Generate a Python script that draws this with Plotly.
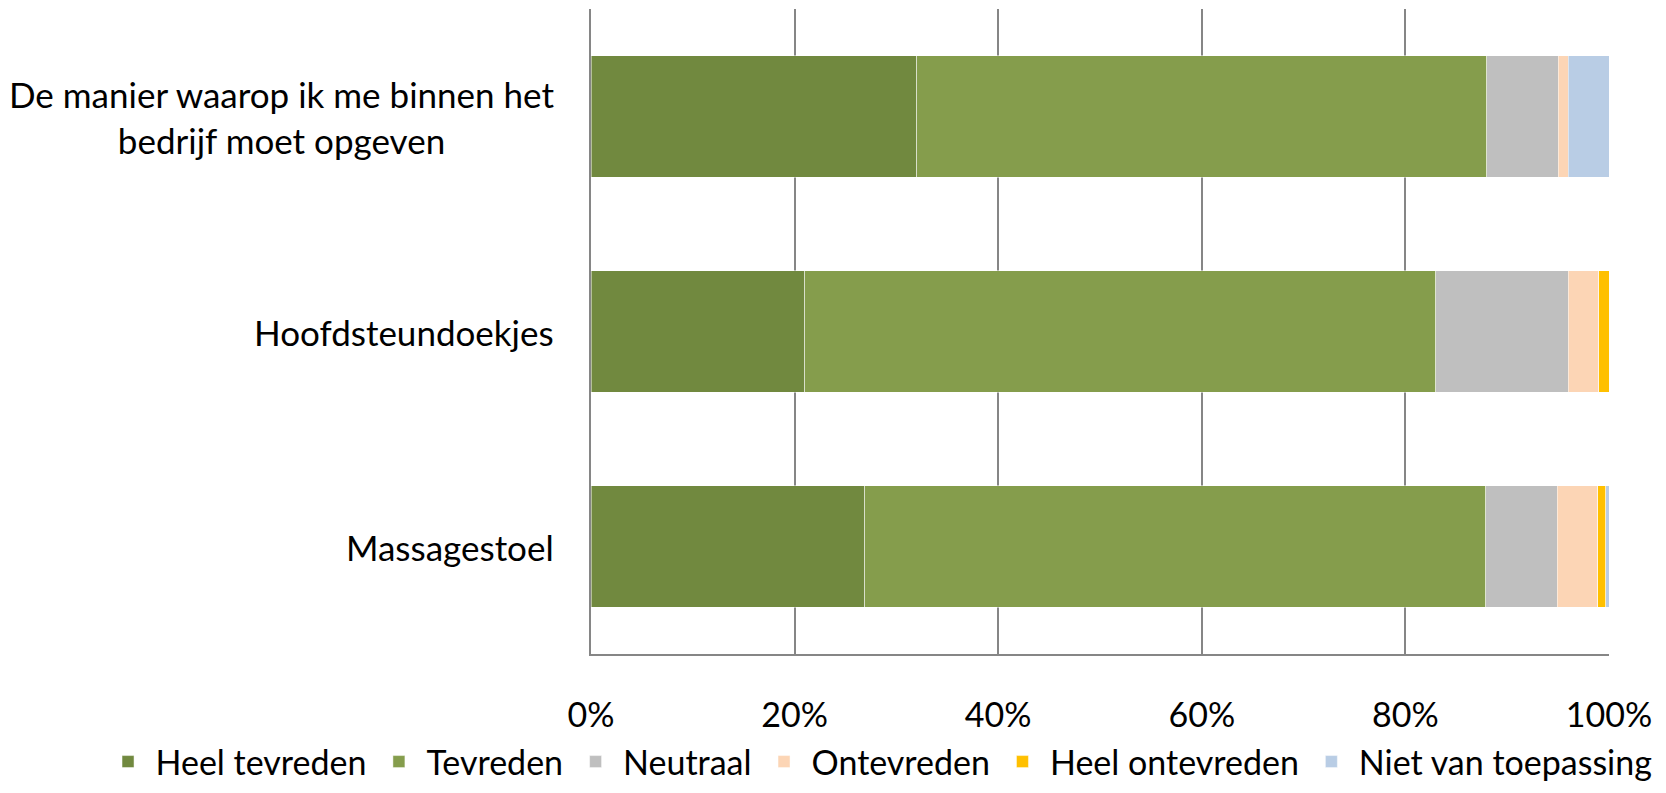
import plotly.graph_objects as go

categories = ["De manier waarop ik me binnen het<br>bedrijf moet opgeven", "Hoofdsteundoekjes", "Massagestoel"]
series_names = ["Heel tevreden", "Tevreden", "Neutraal", "Ontevreden", "Heel ontevreden", "Niet van toepassing"]
heel_tevreden = [32, 21, 26.9]
tevreden = [56, 62, 61]
neutraal = [7, 13, 7]
ontevreden = [1, 3, 4]
heel_ontevreden = [0, 1, 0.8]
niet_van_toepassing = [4, 0, 0.3]
colors = ["#71893F", "#859D4C", "#BFBFBF", "#FCD5B5", "#FFC000", "#B9CDE5"]
x_ticks = [0, 20, 40, 60, 80, 100]
x_tick_labels = ["0%", "20%", "40%", "60%", "80%", "100%"]

values = [heel_tevreden, tevreden, neutraal, ontevreden, heel_ontevreden, niet_van_toepassing]
FONT = "Lato"
FS = 34
W, H = 1650, 777

fig = go.Figure()
for name, vals, col in zip(series_names, values, colors):
    fig.add_trace(go.Bar(
        y=categories, x=vals, name=name, orientation="h",
        marker=dict(color=col, line=dict(color="rgba(255,255,255,0.6)", width=0.8)),
    ))

for cat in categories:
    fig.add_annotation(
        xref="paper", yref="y", x=0, y=cat, text=cat, showarrow=False,
        xanchor="right", yanchor="middle", align="center", xshift=-35,
        font=dict(family=FONT, size=35, color="#000000"),
    )

fig.update_layout(
    barmode="stack", barnorm="percent", bargap=0.434,
    width=W, height=H,
    margin=dict(l=583, r=49, t=1, b=131, autoexpand=False),
    plot_bgcolor="white", paper_bgcolor="white",
    font=dict(family=FONT, size=FS, color="#000000"),
    legend=dict(orientation="h", xref="paper", x=-0.4818, xanchor="left",
                yref="paper", y=-0.1674, yanchor="middle",
                font=dict(family=FONT, size=FS), traceorder="normal",
                itemwidth=45, tracegroupgap=0, bgcolor="rgba(0,0,0,0)"),
)
fig.update_xaxes(
    range=[0, 100], tickvals=x_ticks, ticktext=x_tick_labels,
    showgrid=True, gridcolor="#868686", gridwidth=2,
    showline=True, linecolor="#868686", linewidth=2, mirror=False,
    zeroline=False, ticks="", ticklabelstandoff=30,
    tickfont=dict(family=FONT, size=FS),
)
fig.update_yaxes(
    autorange="reversed", showticklabels=False, showline=True,
    linecolor="#868686", linewidth=2, ticks="", showgrid=False,
)

fig.write_html("out.html")
